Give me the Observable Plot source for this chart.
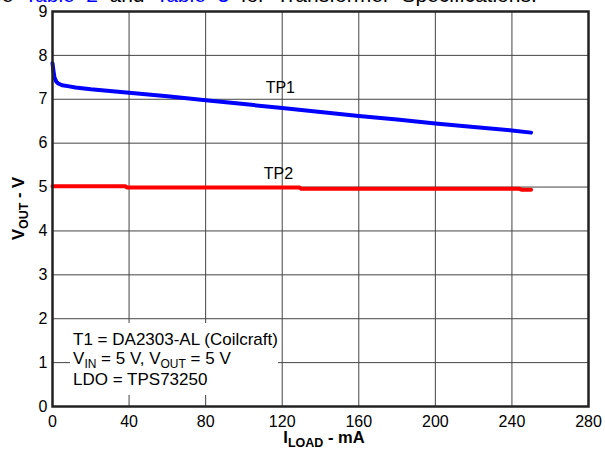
<!DOCTYPE html>
<html><head><meta charset="utf-8">
<script src="https://cdn.jsdelivr.net/npm/d3@7"></script>
<script src="https://cdn.jsdelivr.net/npm/@observablehq/plot@0.6"></script>
<style>
body{margin:0;background:#fff;overflow:hidden;}
#wrap{position:relative;width:605px;height:454px;overflow:hidden;}
#top{position:absolute;left:-24px;top:-16px;font:21px "Liberation Sans",Arial,sans-serif;word-spacing:5.7px;white-space:nowrap;line-height:21px;color:#000;z-index:2;}
#top span{color:#0000ff;}
</style></head><body>
<div id="wrap"><div id="top">See <span>Table 2</span> and <span>Table 3</span> for Transformer Specifications.</div></div>
<script>
// ---- data ----
const tp1Load = [0, 0.5, 1, 2, 3, 5, 8, 12, 20, 30, 40, 60, 80, 100, 120, 140, 160, 180, 200, 220, 240, 250];
const tp1Vout = [7.82, 7.65, 7.5, 7.4, 7.36, 7.32, 7.3, 7.27, 7.23, 7.19, 7.15, 7.07, 6.98, 6.89, 6.80, 6.71, 6.62, 6.54, 6.45, 6.37, 6.29, 6.24];
const tp2Load = [0, 38, 39, 129, 130, 244, 245, 250];
const tp2Vout = [5.02, 5.02, 4.99, 4.99, 4.96, 4.96, 4.94, 4.94];
const xTicks = [0, 40, 80, 120, 160, 200, 240, 280];
const yTicks = [0, 1, 2, 3, 4, 5, 6, 7, 8, 9];
const seriesNames = ["TP1", "TP2"];
const seriesLabelLoad = [119, 118];
const seriesLabelVout = [7.25, 5.3];

const tp1 = tp1Load.map((x, i) => ({x, y: tp1Vout[i]}));
const tp2 = tp2Load.map((x, i) => ({x, y: tp2Vout[i]}));
const labels = seriesNames.map((t, i) => ({t, x: seriesLabelLoad[i], y: seriesLabelVout[i]}));

const FONT = '"Liberation Sans", Arial, sans-serif';

const plot = Plot.plot({
  width: 605, height: 454,
  marginTop: 11, marginBottom: 48, marginLeft: 52, marginRight: 17,
  style: {fontFamily: FONT, fontSize: "16px", color: "#000", background: "#fff"},
  x: {domain: [0, 280], ticks: xTicks, tickSize: 0, tickPadding: 9, label: null},
  y: {domain: [0, 9], ticks: yTicks, tickSize: 0, tickPadding: 5, label: null},
  marks: [
    Plot.gridX(xTicks, {stroke: "#444", strokeOpacity: 1, strokeWidth: 1}),
    Plot.gridY(yTicks, {stroke: "#444", strokeOpacity: 1, strokeWidth: 1}),
    Plot.line(tp1, {x: "x", y: "y", stroke: "#0000ff", strokeWidth: 4}),
    Plot.line(tp2, {x: "x", y: "y", stroke: "#ff0000", strokeWidth: 4}),
    Plot.text(labels, {x: "x", y: "y", text: "t", fontSize: 16, fill: "#000"}),
    Plot.frame({stroke: "#222", strokeWidth: 2.5})
  ]
});
const wrap = document.getElementById("wrap");
wrap.insertBefore(plot, wrap.firstChild);

const svg = d3.select(plot);
const xs = plot.scale("x"), ys = plot.scale("y");
const cx = (xs.range[0] + xs.range[1]) / 2;
const cy = (ys.range[0] + ys.range[1]) / 2;

// x axis label
const xl = svg.append("text").attr("x", cx + 4).attr("y", 443)
  .attr("text-anchor", "middle").attr("font-family", FONT).attr("font-weight", "bold").attr("font-size", 16.5);
xl.append("tspan").text("I");
xl.append("tspan").attr("font-size", 12.5).attr("dy", 4).text("LOAD");
xl.append("tspan").attr("dy", -4).text(" - mA");

// y axis label
const yl = svg.append("text").attr("transform", `translate(24,${cy}) rotate(-90)`)
  .attr("text-anchor", "middle").attr("font-family", FONT).attr("font-weight", "bold").attr("font-size", 16.5);
yl.append("tspan").text("V");
yl.append("tspan").attr("font-size", 12.5).attr("dy", 4).text("OUT");
yl.append("tspan").attr("dy", -4).text(" - V");

// annotation
const frameEl = plot.querySelector('[aria-label="frame"]');
const g = svg.append("g");
plot.insertBefore(g.node(), frameEl);
const bg = g.append("rect").attr("fill", "#fff");
const ax = xs.apply(11);
const t = g.append("text").attr("font-family", FONT).attr("font-size", 17).attr("fill", "#000").attr("text-anchor", "start");
t.append("tspan").attr("x", ax).attr("y", 345).text("T1 = DA2303-AL (Coilcraft)");
const l2 = t.append("tspan").attr("x", ax).attr("y", 364);
l2.append("tspan").text("V");
l2.append("tspan").attr("font-size", 12).attr("dy", 4).text("IN");
l2.append("tspan").attr("dy", -4).text(" = 5 V, V");
l2.append("tspan").attr("font-size", 12).attr("dy", 4).text("OUT");
l2.append("tspan").attr("dy", -4).text(" = 5 V");
t.append("tspan").attr("x", ax).attr("y", 385).text("LDO = TPS73250");
const bb = t.node().getBBox();
bg.attr("x", bb.x - 3).attr("y", bb.y - 7).attr("width", bb.width + 3).attr("height", bb.height + 13);
</script>
</body></html>
